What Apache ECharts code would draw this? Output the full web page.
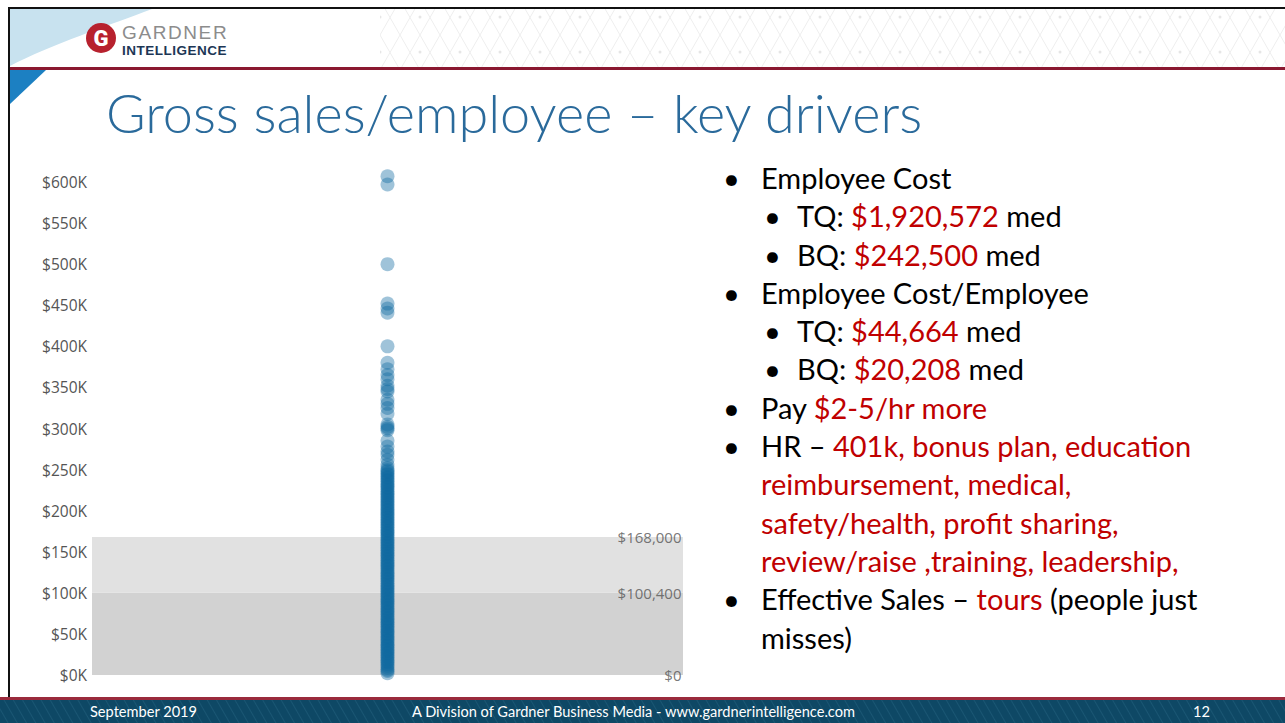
<!DOCTYPE html>
<html>
<head>
<meta charset="utf-8">
<title>Gross sales/employee – key drivers</title>
<script src="https://cdn.jsdelivr.net/npm/echarts@6/dist/echarts.min.js"></script>
<style>
  html, body { margin: 0; padding: 0; background: #fff; }
  #slide { position: relative; width: 1285px; height: 723px; overflow: hidden; background: #fff; font-family: Lato, "Open Sans", sans-serif; }
  .abs { position: absolute; }
  #title { left: 106px; top: 80px; font-size: 54px; font-weight: 300; color: #2a6a9b; white-space: nowrap; line-height: 66px; }
  #bullets { left: 700px; top: 159px; font-size: 29px; color: #000; }
  .ln { position: relative; height: 38.3px; line-height: 38.3px; white-space: nowrap; }
  .l1 { padding-left: 61px; }
  .l2 { padding-left: 97px; }
  .dot { position: absolute; top: 0; }
  .l1 .dot { left: 23px; }
  .l2 .dot { left: 64px; }
  .red { color: #c00000; }
  #footer { left: 0; top: 700px; width: 1285px; height: 23px; background: repeating-linear-gradient(60deg, #0e4865 0px, #0e4865 6px, #1a5673 7px, #0e4865 8px); color: #fff; font-size: 14.6px; line-height: 23px; }
  #chart { left: 10px; top: 140px; width: 690px; height: 560px; }
</style>
</head>
<body>
<div id="slide">
  <!-- header decoration -->
  <svg class="abs" style="left:0;top:0" width="1285" height="110">
    <defs>
      <pattern id="tri" width="40" height="35" patternUnits="userSpaceOnUse">
        <path d="M0 0 L20 35 L40 0 M0 35 L20 0 L40 35" stroke="#eeeeee" stroke-width="1" fill="none"/>
        <circle cx="20" cy="17" r="1.5" fill="#e6e6e6"/>
      </pattern>
    </defs>
    <rect x="380" y="9" width="905" height="59" fill="url(#tri)"/>
    <rect x="8" y="7" width="1277" height="2" fill="#111"/>
    <path d="M10 9 L152 9 C 110 25, 50 45, 10 66 Z" fill="#c8e2ef"/>
    <rect x="10" y="67" width="1275" height="3" fill="#8a1830"/>
    <path d="M10 70 L46 70 L10 104 Z" fill="#1c80c2"/>
    <circle cx="101" cy="38" r="15" fill="#b7212e"/>
    <text x="101" y="46" text-anchor="middle" font-family="Roboto, sans-serif" font-weight="900" font-size="22" fill="#fff">G</text>
    <text x="122" y="38.5" font-family="'Liberation Sans', sans-serif" font-size="19" fill="#8c8c8c" letter-spacing="1.6">GARDNER</text>
    <text x="122" y="54.8" font-family="'Liberation Sans', sans-serif" font-weight="700" font-size="13.5" fill="#1c3655" letter-spacing="0.5">INTELLIGENCE</text>
  </svg>
  <div class="abs" style="left:8px;top:7px;width:2px;height:693px;background:#111"></div>

  <div id="title" class="abs">Gross sales/employee – key drivers</div>

  <div id="chart" class="abs"></div>

  <div id="bullets" class="abs">
    <div class="ln l1"><span class="dot">•</span>Employee Cost</div>
    <div class="ln l2"><span class="dot">•</span>TQ: <span class="red">$1,920,572</span> med</div>
    <div class="ln l2"><span class="dot">•</span>BQ: <span class="red">$242,500</span> med</div>
    <div class="ln l1"><span class="dot">•</span>Employee Cost/Employee</div>
    <div class="ln l2"><span class="dot">•</span>TQ: <span class="red">$44,664</span> med</div>
    <div class="ln l2"><span class="dot">•</span>BQ: <span class="red">$20,208</span> med</div>
    <div class="ln l1"><span class="dot">•</span>Pay <span class="red">$2-5/hr more</span></div>
    <div class="ln l1"><span class="dot">•</span>HR – <span class="red">401k, bonus plan, education</span></div>
    <div class="ln l1 red">reimbursement, medical,</div>
    <div class="ln l1 red">safety/health, profit sharing,</div>
    <div class="ln l1 red">review/raise ,training, leadership,</div>
    <div class="ln l1"><span class="dot">•</span>Effective Sales – <span class="red">tours</span> (people just</div>
    <div class="ln l1">misses)</div>
  </div>

  <div class="abs" style="left:0;top:697px;width:1285px;height:3px;background:#9a2a3c"></div>
  <div id="footer" class="abs">
    <span class="abs" style="left:90px">September 2019</span>
    <span class="abs" style="left:412px">A Division of Gardner Business Media - www.gardnerintelligence.com</span>
    <span class="abs" style="left:1193px">12</span>
  </div>
</div>

<script>
// gross sales per employee, one dot per shop
const salesPerEmployee = [
  2100, 4800, 6500, 8900, 11200, 13400, 15800, 17300, 19600, 21900, 23500, 25800, 27400, 29900, 31200,
  33800, 35600, 37100, 39400, 41800, 43200, 45600, 47100, 49800, 51300, 53700, 55200, 57900, 59400,
  61800, 63500, 65100, 67700, 69200, 71800, 73400, 75900, 77300, 79600, 81200, 83900, 85400, 87800,
  89300, 91700, 93200, 95800, 97400, 99900, 101300, 103800, 105200, 107600, 109100, 111700, 113400,
  115900, 117300, 119800, 121400, 123700, 125200, 127800, 129300, 131900, 133400, 135700, 137200,
  139800, 141300, 143900, 145400, 147700, 149300, 151800, 153200, 155900, 157400, 159800, 161300,
  163700, 165200, 167900, 169400, 171800, 173300, 175600, 177200, 179900, 181400, 183700, 185300,
  187800, 189200, 191700, 193400, 195800, 197300, 199900, 201200, 203800, 205400, 207700, 209300,
  211800, 213400, 215700, 217200, 219900, 221300, 223700, 225400, 227800, 229300, 231600, 233200,
  235900, 237400, 239700, 241300, 243800, 245200, 247600, 249300, 251800,
  256000, 262000, 268000, 272000, 278000, 285000, 298000, 300000, 302000, 305000, 318000, 325000,
  330000, 335000, 345000, 348000, 352000, 360000, 365000, 372000, 380000, 400000,
  441000, 446000, 452000, 500000, 597000, 607000
]
// median bands (bottom quartile / top quartile)
const bandValues = [0, 100400, 168000]
const bandLabels = ['$0', '$100,400', '$168,000']
const yTicks = [0, 600000, 50000] // min, max, step

let chart = echarts.init(document.getElementById('chart'), null, { renderer: 'svg' })

let option = {
  animation: false,
  grid: { left: 82, right: 17, top: 42, bottom: 25 },
  xAxis: { type: 'value', min: 0, max: 1, show: false },
  yAxis: {
    type: 'value',
    min: yTicks[0],
    max: yTicks[1],
    interval: yTicks[2],
    axisLine: { show: false },
    axisTick: { show: false },
    splitLine: { show: false },
    axisLabel: {
      margin: 5,
      color: '#555',
      fontSize: 15.5,
      fontFamily: '"Open Sans", sans-serif',
      formatter: v => '$' + (v / 1000) + 'K'
    }
  },
  series: [
    {
      // band labels + shaded bands
      type: 'scatter',
      symbolSize: 1,
      itemStyle: { color: 'transparent' },
      data: bandValues.map((v, i) => [1, v, bandLabels[i]]),
      label: {
        show: true,
        position: 'left',
        distance: 1,
        color: '#555',
        fontSize: 15,
        fontFamily: '"Open Sans", sans-serif',
        formatter: p => p.data[2]
      },
      markArea: {
        silent: true,
        data: [
          [{ yAxis: bandValues[0], itemStyle: { color: '#d2d2d2' } }, { yAxis: bandValues[1] }],
          [{ yAxis: bandValues[1], itemStyle: { color: '#e1e1e1' } }, { yAxis: bandValues[2] }]
        ]
      },
      z: 1
    },
    {
      type: 'scatter',
      symbolSize: 14,
      clip: false,
      itemStyle: { color: '#1069a0', opacity: 0.4 },
      data: salesPerEmployee.map(v => [0.5, v]),
      z: 3
    }
  ]
}

chart.setOption(option)
</script>
</body>
</html>
